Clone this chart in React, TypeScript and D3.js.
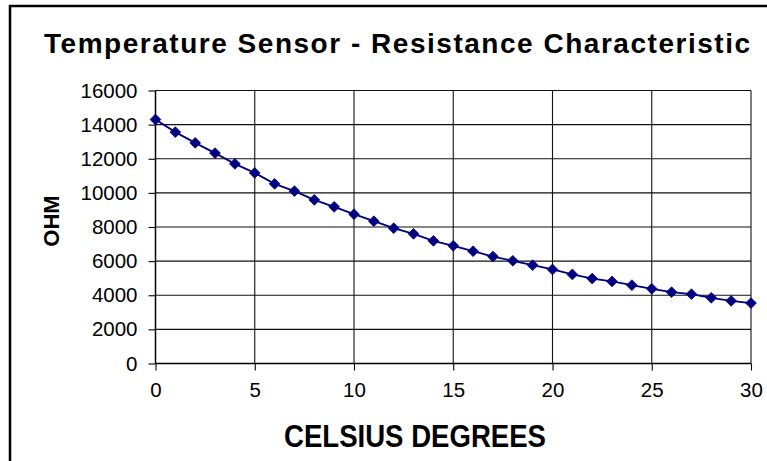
import React, { useEffect, useRef } from "react";
import * as d3 from "d3";

const temperatures: number[] = [
  0, 1, 2, 3, 4, 5, 6, 7, 8, 9, 10, 11, 12, 13, 14, 15, 16, 17, 18, 19, 20,
  21, 22, 23, 24, 25, 26, 27, 28, 29, 30,
];
const resistances: number[] = [
  14300, 13560, 12930, 12330, 11700, 11170, 10530, 10100, 9590, 9180, 8750,
  8340, 7930, 7600, 7190, 6900, 6580, 6270, 6020, 5760, 5510, 5220, 4980,
  4810, 4590, 4380, 4180, 4060, 3850, 3670, 3540,
];
const xTicks: number[] = [0, 5, 10, 15, 20, 25, 30];
const yTicks: number[] = [0, 2000, 4000, 6000, 8000, 10000, 12000, 14000, 16000];

const W = 767;
const H = 461;
const M = { left: 155.5, right: 751, top: 90.5, bottom: 363.5 };
const FONT = "'Liberation Sans', Arial, sans-serif";
const NAVY = "#000080";

export default function App() {
  const ref = useRef<SVGSVGElement | null>(null);

  useEffect(() => {
    const svg = d3.select(ref.current);
    svg.selectAll("*").remove();

    const x = d3.scaleLinear().domain([0, 30]).range([M.left, M.right]);
    const y = d3.scaleLinear().domain([0, 16000]).range([M.bottom, M.top]);

    // frame
    svg
      .append("rect")
      .attr("x", 10)
      .attr("y", 6)
      .attr("width", 900)
      .attr("height", 600)
      .attr("fill", "white")
      .attr("stroke", "#000")
      .attr("stroke-width", 2.5);

    // title
    svg
      .append("text")
      .attr("x", 44)
      .attr("y", 53)
      .attr("font-family", FONT)
      .attr("font-weight", "bold")
      .attr("font-size", 28)
      .attr("textLength", 706)
      .attr("lengthAdjust", "spacing")
      .text("Temperature Sensor - Resistance Characteristic");

    // grid
    const grid = svg.append("g").attr("stroke", "#111").attr("stroke-width", 1.1);
    yTicks
      .filter((v) => v > 0)
      .forEach((v) => {
        grid
          .append("line")
          .attr("x1", M.left)
          .attr("x2", M.right)
          .attr("y1", y(v))
          .attr("y2", y(v));
      });
    xTicks
      .filter((v) => v > 0)
      .forEach((v) => {
        grid
          .append("line")
          .attr("x1", x(v))
          .attr("x2", x(v))
          .attr("y1", M.top)
          .attr("y2", M.bottom);
      });

    // axes
    const yAxis = svg
      .append("g")
      .attr("transform", `translate(${M.left},0)`)
      .call(
        d3
          .axisLeft(y)
          .tickValues(yTicks)
          .tickSize(7)
          .tickPadding(11)
          .tickFormat((d) => String(d))
      );
    const xAxis = svg
      .append("g")
      .attr("transform", `translate(0,${M.bottom})`)
      .call(
        d3
          .axisBottom(x)
          .tickValues(xTicks)
          .tickSize(7)
          .tickPadding(12)
          .tickFormat((d) => String(d))
      );
    [yAxis, xAxis].forEach((g) => {
      g.select(".domain").attr("stroke", "#000").attr("stroke-width", 1.5);
      g.selectAll(".tick line").attr("stroke", "#000").attr("stroke-width", 1.1);
      g.selectAll(".tick text")
        .attr("font-family", FONT)
        .attr("font-size", 20.5)
        .attr("fill", "#000");
    });
    xAxis.select(".domain").attr("d", `M${M.left},0H${M.right}`);
    yAxis.select(".domain").attr("d", `M0,${M.bottom}V${M.top}`);

    // axis titles
    svg
      .append("text")
      .attr("x", 415)
      .attr("y", 447)
      .attr("text-anchor", "middle")
      .attr("font-family", FONT)
      .attr("font-weight", "bold")
      .attr("font-size", 31)
      .attr("textLength", 262)
      .attr("lengthAdjust", "spacingAndGlyphs")
      .text("CELSIUS DEGREES");

    svg
      .append("text")
      .attr("transform", `translate(59,221) rotate(-90)`)
      .attr("text-anchor", "middle")
      .attr("font-family", FONT)
      .attr("font-weight", "bold")
      .attr("font-size", 22)
      .text("OHM");

    // series
    const data = temperatures.map((t, i) => [t, resistances[i]] as [number, number]);
    const line = d3
      .line<[number, number]>()
      .x((d) => x(d[0]))
      .y((d) => y(d[1]));
    svg
      .append("path")
      .datum(data)
      .attr("d", line)
      .attr("fill", "none")
      .attr("stroke", NAVY)
      .attr("stroke-width", 1.8);

    const diamond = d3.symbol().type(d3.symbolDiamond2).size(74);
    svg
      .append("g")
      .selectAll("path")
      .data(data)
      .join("path")
      .attr("transform", (d) => `translate(${x(d[0])},${y(d[1])})`)
      .attr("d", diamond)
      .attr("fill", NAVY)
      .attr("stroke", NAVY)
      .attr("stroke-width", 0.8);
  }, []);

  return (
    <svg
      ref={ref}
      width={W}
      height={H}
      style={{ position: "absolute", left: 0, top: 0, background: "white" }}
    />
  );
}
